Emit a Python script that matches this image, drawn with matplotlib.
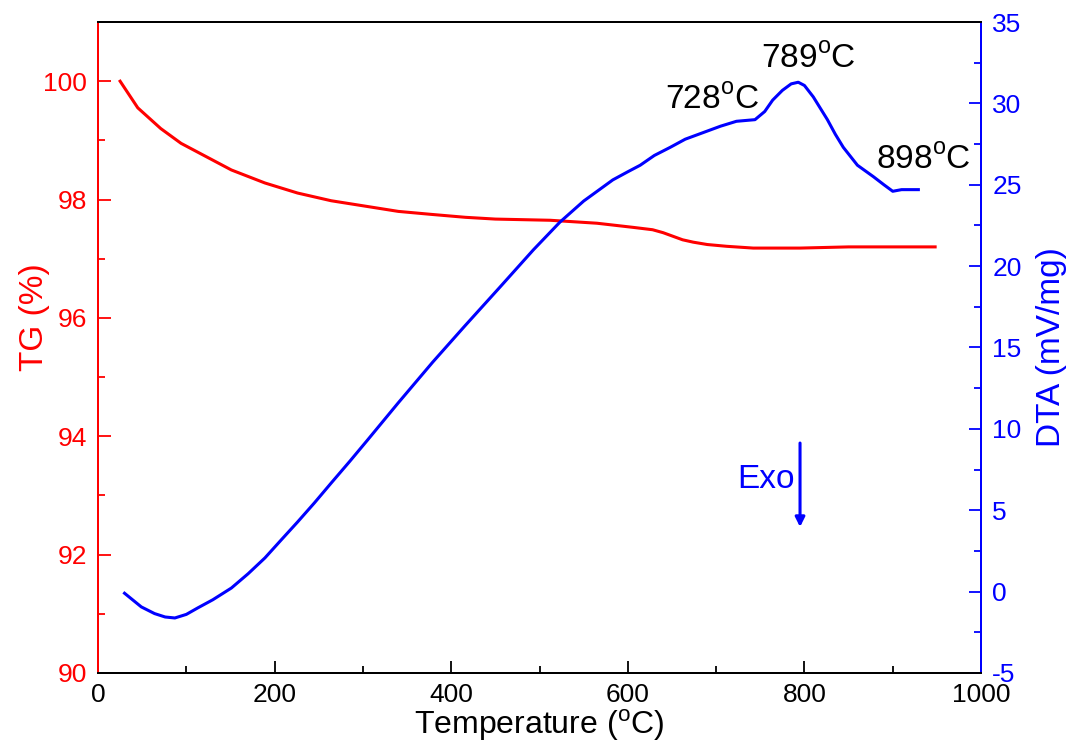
import numpy as np
import matplotlib
matplotlib.use("Agg")
import matplotlib.pyplot as plt

plt.rcParams['font.family'] = ['Liberation Sans', 'DejaVu Sans']
plt.rcParams['mathtext.fontset'] = 'custom'
plt.rcParams['mathtext.rm'] = 'Liberation Sans'
plt.rcParams['axes.unicode_minus'] = False

# TG curve (temperature in C, mass %)
tg_temp = [25, 45, 71, 94, 113, 151, 189, 226, 264, 302, 340, 377, 416,
           450, 512, 565, 606, 628, 640, 651, 662, 674, 690, 712, 742, 795,
           850, 948]
tg_mass = [100.0, 99.55, 99.2, 98.95, 98.8, 98.5, 98.28, 98.11, 97.98,
           97.89, 97.8, 97.75, 97.7, 97.67, 97.65, 97.6, 97.53, 97.49, 97.44,
           97.38, 97.32, 97.28, 97.24, 97.21, 97.18, 97.18, 97.2, 97.2]

# DTA curve (temperature in C, mV/mg)
dta_temp = [30, 49, 64, 76, 87, 100, 113, 130, 151, 170, 189, 207, 226,
            245, 264, 285, 305, 340, 379, 415, 455, 493, 523, 550, 583, 600,
            614, 630, 648, 665, 685, 705, 723, 744, 755, 764, 775, 785, 793,
            800, 810, 818, 826, 835, 844, 860, 878, 890, 900, 910, 929]
dta_val = [-0.1, -0.94, -1.35, -1.56, -1.62, -1.4, -1.0, -0.5, 0.22, 1.1,
           2.07, 3.15, 4.28, 5.45, 6.67, 8.0, 9.3, 11.6, 14.1, 16.3, 18.7,
           21.0, 22.7, 24.0, 25.3, 25.8, 26.2, 26.8, 27.3, 27.8, 28.2, 28.6,
           28.9, 29.0, 29.5, 30.2, 30.8, 31.2, 31.3, 31.1, 30.4, 29.7, 29.0,
           28.1, 27.3, 26.2, 25.5, 25.0, 24.6, 24.7, 24.7]

peak_labels = [r'728$^{\rm o}$C', r'789$^{\rm o}$C', r'898$^{\rm o}$C']
peak_pos = [(695, 30.2), (804, 32.7), (935, 26.5)]

fig = plt.figure(figsize=(10.75, 7.49), dpi=100)
ax = fig.add_axes([0.0912, 0.1015, 0.8214, 0.8691])
ax2 = ax.twinx()

ax.plot(tg_temp, tg_mass, color='#ff0000', lw=2.2)
ax2.plot(dta_temp, dta_val, color='#0000ff', lw=2.2)

ax.set_xlim(0, 1000)
ax.set_ylim(90, 101)
ax2.set_ylim(-5, 35)

ax.set_xticks(np.arange(0, 1001, 200))
ax.set_xticks(np.arange(100, 1000, 200), minor=True)
ax.set_yticks(np.arange(90, 101, 2))
ax.set_yticks(np.arange(91, 101, 2), minor=True)
ax2.set_yticks(np.arange(-5, 36, 5))
ax2.set_yticks(np.arange(-2.5, 35, 5), minor=True)

ax.tick_params(axis='both', which='major', direction='in', length=9, width=1.3, labelsize=19)
ax.tick_params(axis='both', which='minor', direction='in', length=5, width=1.3)
ax.tick_params(axis='y', which='both', colors='#ff0000', pad=8)
ax.tick_params(axis='x', which='both', top=False, colors='black', pad=7)
ax2.tick_params(axis='y', which='major', direction='in', length=9, width=1.3,
                labelsize=19, colors='#0000ff', pad=8)
ax2.tick_params(axis='y', which='minor', direction='in', length=5, width=1.3, colors='#0000ff')

for a in (ax, ax2):
    a.spines['left'].set_color('#ff0000')
    a.spines['right'].set_color('#0000ff')
    a.spines['top'].set_color('black')
    a.spines['bottom'].set_color('black')
    for s in a.spines.values():
        s.set_linewidth(1.4)

ax.set_xlabel(r'Temperature ($^{\rm o}$C)', fontsize=23)
ax.set_ylabel('TG (%)', fontsize=24, color='#ff0000')
ax2.set_ylabel('DTA (mV/mg)', fontsize=24, color='#0000ff')
ax.xaxis.set_label_coords(0.5, -0.052)
ax.xaxis.label.set_va('top')
ax.yaxis.set_label_coords(-0.054, 0.547)
ax2.yaxis.set_label_coords(1.062, 0.5)

for lab, (px, py) in zip(peak_labels, peak_pos):
    ax2.text(px, py, lab, fontsize=24, ha='center', va='center', color='black')

ax2.annotate('', xy=(795, 3.8), xytext=(795, 9.3),
             arrowprops=dict(arrowstyle='-|>', color='#0000ff', lw=2.2,
                             mutation_scale=14))
ax2.text(789, 6.9, 'Exo', fontsize=24, color='#0000ff', ha='right', va='center')

fig.savefig('out.png', dpi=100)
